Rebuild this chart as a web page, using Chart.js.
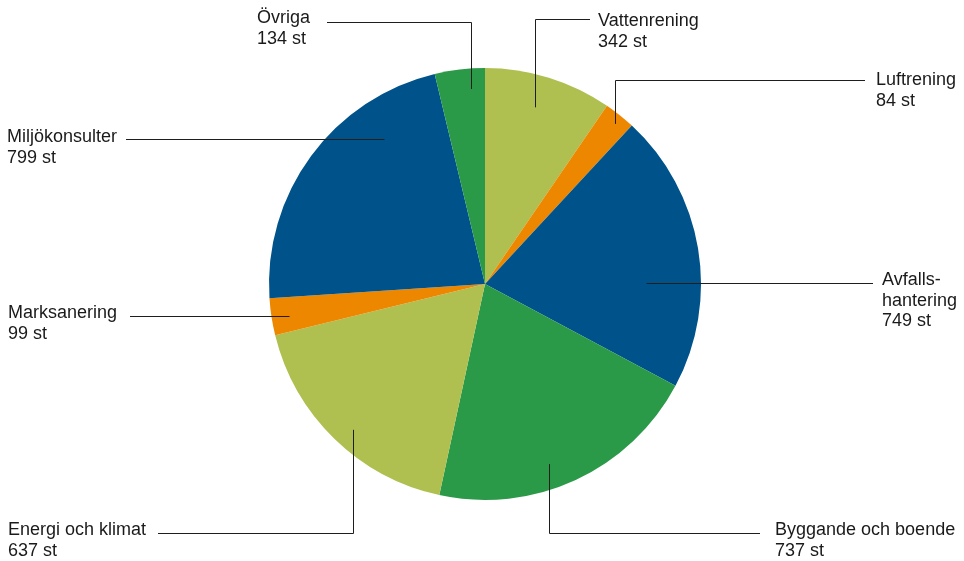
<!DOCTYPE html>
<html><head><meta charset="utf-8">
<script src="https://cdn.jsdelivr.net/npm/chart.js@4"></script>
<style>html,body{margin:0;padding:0;background:#fff}#wrap{width:964px;height:561px;position:relative}</style>
</head><body><div id="wrap"><canvas id="c" width="964" height="561"></canvas></div>
<script>
const categories = ["Vattenrening","Luftrening","Avfallshantering","Byggande och boende","Energi och klimat","Marksanering","Miljökonsulter","Övriga"];
const labelLines = [["Vattenrening"],["Luftrening"],["Avfalls-","hantering"],["Byggande och boende"],["Energi och klimat"],["Marksanering"],["Miljökonsulter"],["Övriga"]];
const values = [342,84,749,737,637,99,799,134];
const unit = "st";
const colors = ["#afbf50","#ee8700","#00528b","#2a9a48","#afbf50","#ee8700","#00528b","#2a9a48"];

// annotation layout: text position, leader line y and start x, anchor in polar (deg from top, fraction of radius)
const labelLayout = [
  {tx:598, ty:26, align:"left",  ly:19,  lx:590, ang:15.8,  rf:0.85},
  {tx:876, ty:85, align:"left",  ly:80,  lx:865, ang:39.1,  rf:0.955},
  {tx:882, ty:285,align:"left",  ly:283, lx:873, ang:89.6,  rf:0.745},
  {tx:775, ty:535,align:"left",  ly:533, lx:760, ang:160.4, rf:0.885},
  {tx:8,   ty:535,align:"left",  ly:533, lx:158, ang:222.1, rf:0.91},
  {tx:8,   ty:318,align:"left",  ly:316, lx:130, ang:260.7, rf:0.92},
  {tx:7,   ty:142,align:"left",  ly:139, lx:126, ang:325.1, rf:0.82},
  {tx:257, ty:23, align:"left",  ly:22,  lx:327, ang:355.9, rf:0.905}
];

const labelPlugin = {
  id: "leaderLabels",
  afterDraw(chart) {
    const ctx = chart.ctx;
    const arc = chart.getDatasetMeta(0).data[0];
    const cx = arc.x, cy = arc.y, R = arc.outerRadius;
    ctx.save();
    ctx.strokeStyle = "#1e1e1e";
    ctx.lineWidth = 1;
    ctx.font = "18px 'Liberation Sans', Arial, sans-serif";
    ctx.fillStyle = "#1a1a1a";
    ctx.textBaseline = "alphabetic";
    labelLayout.forEach((L, i) => {
      const a = L.ang * Math.PI / 180;
      const ax = cx + L.rf * R * Math.sin(a);
      const ay = cy - L.rf * R * Math.cos(a);
      const ly = Math.round(L.ly) + 0.5;
      ctx.beginPath();
      ctx.moveTo(L.lx, ly);
      const ex = Math.round(ax) + 0.5;
      ctx.lineTo(ex, ly);
      if (Math.abs(ay - ly) > 2) ctx.lineTo(ex, ay);
      ctx.stroke();
      const lines = labelLines[i].concat([values[i] + " " + unit]);
      ctx.textAlign = L.align;
      lines.forEach((t, k) => ctx.fillText(t, L.tx, L.ty + k * 20.5));
    });
    ctx.restore();
  }
};

new Chart(document.getElementById("c"), {
  type: "pie",
  data: { labels: categories, datasets: [{ data: values, backgroundColor: colors, borderWidth: 0 }] },
  options: {
    responsive: false,
    animation: false,
    layout: { padding: { top: 68, bottom: 61, left: 269, right: 263 } },
    plugins: { legend: { display: false }, tooltip: { enabled: false } }
  },
  plugins: [labelPlugin]
});
</script></body></html>
